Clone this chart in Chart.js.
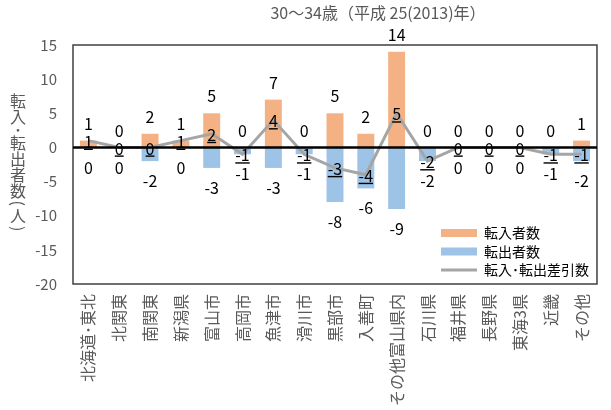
<!DOCTYPE html>
<html>
<head>
<meta charset="utf-8">
<script src="https://cdn.jsdelivr.net/npm/chart.js@4/dist/chart.umd.min.js"></script>
<style>
  html, body { margin: 0; padding: 0; background: #ffffff; }
  #wrap { width: 611px; height: 410px; }
</style>
</head>
<body>
<div id="wrap"><canvas id="chart" width="611" height="410"></canvas></div>
<script>
// 30～34歳 転入・転出者数（平成25年）
const categories = ['北海道･東北', '北関東', '南関東', '新潟県', '富山市', '高岡市', '魚津市', '滑川市', '黒部市', '入善町', 'その他富山県内', '石川県', '福井県', '長野県', '東海3県', '近畿', 'その他'];
const inflow  = [1, 0, 2, 1, 5, 0, 7, 0, 5, 2, 14, 0, 0, 0, 0, 0, 1];
const outflow = [0, 0, -2, 0, -3, -1, -3, -1, -8, -6, -9, -2, 0, 0, 0, -1, -2];
const net     = [1, 0, 0, 1, 2, -1, 4, -1, -3, -4, 5, -2, 0, 0, 0, -1, -1];
const seriesNames = ['転入者数', '転出者数', '転入･転出差引数'];
const yTicks = [-20, -15, -10, -5, 0, 5, 10, 15];
const chartTitle = '30～34歳（平成 25(2013)年）';
const yAxisTitle = '転入･転出者数(人)';

const FONT = '"Noto Sans CJK JP", "Noto Sans", sans-serif';
const COLORS = { inflow: '#F4B183', outflow: '#9DC3E6', net: '#A5A5A5' };

const decor = {
  id: 'decor',
  afterLayout(chart) {
    // legend sits inside the plot, lower right
    const lg = chart.legend;
    const w = lg.width, h = lg.height;
    lg.left = 436.5; lg.top = 221.5;
    lg.right = lg.left + w; lg.bottom = lg.top + h;
  },
  beforeDatasetsDraw(chart) {
    const { ctx, chartArea: a } = chart;
    ctx.save();
    ctx.strokeStyle = '#404040';
    ctx.lineWidth = 1.5;
    ctx.strokeRect(a.left, a.top, a.right - a.left, a.bottom - a.top);
    ctx.restore();
  },
  afterDatasetsDraw(chart) {
    const { ctx, chartArea: a, scales } = chart;
    const y0 = scales.y.getPixelForValue(0);
    ctx.save();
    // zero axis
    ctx.strokeStyle = '#000000';
    ctx.lineWidth = 2.5;
    ctx.beginPath();
    ctx.moveTo(a.left, y0);
    ctx.lineTo(a.right, y0);
    ctx.stroke();

    // value labels
    ctx.font = '16px ' + FONT;
    ctx.fillStyle = '#000000';
    ctx.textAlign = 'center';
    ctx.textBaseline = 'middle';
    chart.getDatasetMeta(0).data.forEach((el, i) => {
      ctx.fillText(String(inflow[i]), el.x, el.y - 17);
    });
    chart.getDatasetMeta(1).data.forEach((el, i) => {
      ctx.fillText(String(outflow[i]), el.x, el.y + 20);
    });
    chart.getDatasetMeta(2).data.forEach((el, i) => {
      const t = String(net[i]);
      const yy = el.y + 1;
      ctx.fillText(t, el.x, yy);
      const w = ctx.measureText(t).width;
      ctx.fillRect(el.x - w / 2, yy + 7, w, 1.4);
    });
    ctx.restore();
  },
  afterDraw(chart) {
    const { ctx } = chart;
    ctx.save();
    // chart title
    ctx.font = '16px ' + FONT;
    ctx.fillStyle = '#595959';
    ctx.textAlign = 'center';
    ctx.textBaseline = 'middle';
    ctx.fillText(chartTitle, 378, 13);

    // upright vertical axis title
    ctx.font = '16px ' + FONT;
    ctx.fillStyle = '#595959';
    let y = 93;
    for (const ch of yAxisTitle) {
      const narrow = (ch === '･' || ch === '(' || ch === ')');
      const adv = narrow ? 9.5 : 16;
      const cy = y + adv / 2;
      if (ch === '(' || ch === ')') {
        ctx.save();
        ctx.translate(18, cy);
        ctx.rotate(Math.PI / 2);
        ctx.fillText(ch, 0, 0);
        ctx.restore();
      } else {
        ctx.fillText(ch, 18, cy);
      }
      y += adv;
    }
    ctx.restore();
  }
};

new Chart(document.getElementById('chart'), {
  type: 'bar',
  data: {
    labels: categories,
    datasets: [
      {
        label: seriesNames[0],
        data: inflow,
        backgroundColor: COLORS.inflow,
        borderWidth: 0,
        grouped: false,
        barPercentage: 0.55,
        categoryPercentage: 1,
        pointStyle: 'rect',
        order: 1
      },
      {
        label: seriesNames[1],
        data: outflow,
        backgroundColor: COLORS.outflow,
        borderWidth: 0,
        grouped: false,
        barPercentage: 0.55,
        categoryPercentage: 1,
        pointStyle: 'rect',
        order: 1
      },
      {
        type: 'line',
        label: seriesNames[2],
        data: net,
        borderColor: COLORS.net,
        backgroundColor: COLORS.net,
        borderWidth: 3,
        pointRadius: 0,
        pointStyle: 'line',
        tension: 0,
        order: 0
      }
    ]
  },
  options: {
    responsive: false,
    animation: false,
    devicePixelRatio: 1,
    layout: { padding: { left: 0, right: 8, top: 45, bottom: 0 } },
    scales: {
      x: {
        grid: { display: false, drawTicks: false },
        border: { display: false },
        ticks: {
          autoSkip: false,
          minRotation: 90,
          maxRotation: 90,
          padding: 10,
          color: '#595959',
          font: { family: FONT, size: 16 }
        },
        afterFit(scale) { scale.height = 126; }
      },
      y: {
        min: -20,
        max: 15,
        grid: { display: false, drawTicks: false },
        border: { display: false },
        afterBuildTicks(scale) { scale.ticks = yTicks.map(v => ({ value: v })); },
        ticks: {
          padding: 16,
          color: '#595959',
          font: { family: FONT, size: 15 }
        },
        afterFit(scale) { scale.width = 73; }
      }
    },
    plugins: {
      title: { display: false },
      tooltip: { enabled: false },
      legend: {
        position: 'chartArea',
        align: 'start',
        labels: {
          usePointStyle: true,
          pointStyleWidth: 36,
          boxHeight: 8,
          padding: 4.5,
          color: '#000000',
          font: { family: FONT, size: 14 },
          sort: (a, b) => a.datasetIndex - b.datasetIndex
        }
      }
    }
  },
  plugins: [decor]
});
</script>
</body>
</html>
